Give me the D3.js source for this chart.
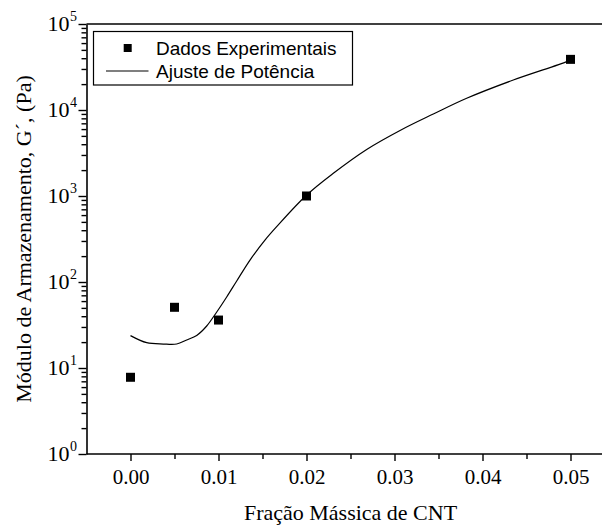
<!DOCTYPE html>
<html><head><meta charset="utf-8">
<script src="https://cdn.jsdelivr.net/npm/d3@7"></script>
<style>body{margin:0;background:#fff}svg{display:block}</style>
</head><body>
<script>
// Data
const fractions = [0.00, 0.005, 0.01, 0.02, 0.05];
const modulus = [7.8, 50.8, 36.1, 1000, 38800];
const fitX = [0.0000, 0.00184, 0.00373, 0.00525, 0.00639, 0.00752, 0.00866, 0.0098, 0.01093, 0.01207, 0.01358, 0.01528, 0.01661, 0.02002, 0.02305, 0.02684, 0.03063, 0.03441, 0.0382, 0.0435, 0.04957, 0.05];
const fitY = [23.8, 19.7, 19.0, 19.0, 21.2, 23.9, 30.8, 44.8, 67.0, 102.8, 180, 307, 440, 1027, 1837, 3475, 5780, 8970, 13680, 22300, 36500, 38500];
const xTicks = [0.00, 0.01, 0.02, 0.03, 0.04, 0.05];
const xMinorTicks = [0.005, 0.015, 0.025, 0.035, 0.045];
const yTickExponents = [0, 1, 2, 3, 4, 5];
const legendLabels = ["Dados Experimentais", "Ajuste de Potência"];
const xTitle = "Fração Mássica de CNT";
const yTitle = "Módulo de Armazenamento, G´, (Pa)";

const W = 602, H = 527;
const svg = d3.select("body").append("svg").attr("width", W).attr("height", H);

const x = d3.scaleLinear().domain([-0.005, 0.055]).range([86.5, 614.5]);
const y = d3.scaleLog().domain([1, 1e5]).range([454, 24]);

const serif = "'Liberation Serif','Times New Roman',serif";
const sans = "'Liberation Sans',Arial,sans-serif";

// frame top
svg.append("line").attr("x1", x(-0.005)).attr("x2", W + 5).attr("y1", y(1e5)).attr("y2", y(1e5))
  .attr("stroke", "#000").attr("stroke-width", 1.6);

// X axis
const gx = svg.append("g").attr("transform", `translate(0,${y(1)})`);
gx.call(d3.axisBottom(x).tickValues(xTicks).tickFormat(d3.format(".2f")).tickSizeInner(7).tickSizeOuter(0).tickPadding(8));
gx.append("g").call(d3.axisBottom(x).tickValues(xMinorTicks).tickFormat("").tickSizeInner(5).tickSizeOuter(0))
  .select(".domain").remove();
gx.select(".domain").attr("stroke-width", 1.6).attr("d", `M${x(-0.005)},0H${W + 5}`);
gx.selectAll("line").attr("stroke-width", 1.4);
gx.selectAll("text").attr("font-family", serif).attr("font-size", 21).attr("fill", "#000");

// Y axis
const yMajor = yTickExponents.map(e => Math.pow(10, e));
const yMinor = [];
yTickExponents.slice(0, -1).forEach(e => { for (let k = 2; k <= 9; k++) yMinor.push(k * Math.pow(10, e)); });
const gy = svg.append("g").attr("transform", `translate(${x(-0.005)},0)`);
gy.call(d3.axisLeft(y).tickValues(yMajor).tickFormat("").tickSizeInner(8).tickSizeOuter(0));
gy.append("g").call(d3.axisLeft(y).tickValues(yMinor).tickFormat("").tickSizeInner(5).tickSizeOuter(0))
  .select(".domain").remove();
gy.select(".domain").attr("stroke-width", 1.6);
gy.selectAll("line").attr("stroke-width", 1.4);

const yl = svg.append("g");
yTickExponents.forEach(e => {
  yl.append("text").attr("font-family", serif).attr("fill", "#000")
    .attr("x", 69.5).attr("y", y(Math.pow(10, e)) + 7).attr("text-anchor", "end").attr("font-size", 22).text("10");
  yl.append("text").attr("font-family", serif).attr("fill", "#000").attr("font-size", 14)
    .attr("x", 70).attr("y", y(Math.pow(10, e)) - 3).text(e);
});

// Titles
svg.append("text").attr("x", (x(-0.005) + x(0.055)) / 2).attr("y", 520).attr("text-anchor", "middle")
  .attr("font-family", serif).attr("font-size", 22).attr("fill", "#000").text(xTitle);
svg.append("text").attr("transform", `translate(31,${(y(1) + y(1e5)) / 2}) rotate(-90)`).attr("text-anchor", "middle")
  .attr("font-family", serif).attr("font-size", 22).attr("fill", "#000").text(yTitle);

// Fit line
const line = d3.line().x((d, i) => x(fitX[i])).y((d, i) => y(fitY[i])).curve(d3.curveCatmullRom.alpha(0.5));
svg.append("path").datum(fitY).attr("d", line).attr("fill", "none").attr("stroke", "#000").attr("stroke-width", 1.2);

// Points
const ms = 9;
svg.append("g").selectAll("rect").data(modulus).join("rect")
  .attr("x", (d, i) => x(fractions[i]) - ms / 2).attr("y", d => y(d) - ms / 2)
  .attr("width", ms).attr("height", ms).attr("fill", "#000");

// Legend
const lg = svg.append("g");
lg.append("rect").attr("x", 93.5).attr("y", 31.5).attr("width", 259).attr("height", 53.5)
  .attr("fill", "#fff").attr("stroke", "#000").attr("stroke-width", 1.2);
lg.append("rect").attr("x", 127.7 - 4).attr("y", 48 - 4).attr("width", 8).attr("height", 8).attr("fill", "#000");
lg.append("line").attr("x1", 106).attr("x2", 148.5).attr("y1", 71).attr("y2", 71).attr("stroke", "#000").attr("stroke-width", 1.2);
lg.selectAll("text").data(legendLabels).join("text")
  .attr("x", 156).attr("y", (d, i) => 54.5 + i * 23).attr("font-family", sans).attr("font-size", 19).attr("fill", "#000")
  .text(d => d);
</script>
</body></html>
